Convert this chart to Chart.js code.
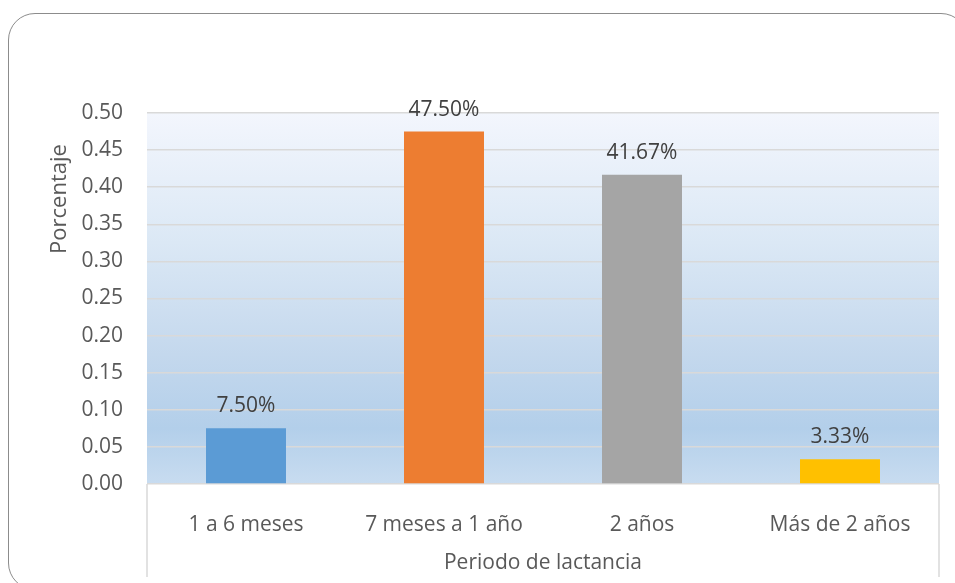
<!DOCTYPE html>
<html>
<head>
<meta charset="utf-8">
<script src="https://cdn.jsdelivr.net/npm/chart.js@4.4.0/dist/chart.umd.min.js"></script>
<style>
  html, body { margin: 0; padding: 0; background: #ffffff; }
  #wrap { position: relative; width: 955px; height: 583px; overflow: hidden; }
  #frame { position: absolute; left: 8px; top: 13px; width: 960px; height: 577px;
           border: 1px solid #8c8c8c; border-radius: 27px; box-sizing: border-box; pointer-events: none; }
  canvas { position: absolute; left: 0; top: 0; }
</style>
</head>
<body>
<div id="wrap">
  <div id="frame"></div>
  <canvas id="c" width="955" height="583"></canvas>
</div>
<script>
const categories = ['1 a 6 meses', '7 meses a 1 año', '2 años', 'Más de 2 años'];
const values = [0.075, 0.475, 0.4167, 0.0333];
const barColors = ['#5b9bd5', '#ed7d31', '#a5a5a5', '#ffc000'];
const yTitle = 'Porcentaje';
const xTitle = 'Periodo de lactancia';

const FONT = "'Open Sans', 'Noto Sans', sans-serif";

const bgPlugin = {
  id: 'plotBg',
  beforeDraw(chart) {
    const {ctx, chartArea: a} = chart;
    const g = ctx.createLinearGradient(0, a.top, 0, a.bottom);
    g.addColorStop(0, '#f3f6fd');
    g.addColorStop(0.35, '#dbe8f5');
    g.addColorStop(0.65, '#c4d8ed');
    g.addColorStop(0.85, '#b3cfea');
    g.addColorStop(1, '#c8dcf0');
    ctx.save();
    ctx.fillStyle = g;
    ctx.fillRect(a.left, a.top, a.right - a.left, a.bottom - a.top);
    ctx.restore();
  }
};

const decoPlugin = {
  id: 'deco',
  afterDraw(chart) {
    const {ctx, chartArea: a} = chart;
    ctx.save();
    ctx.strokeStyle = '#d9d9d9';
    ctx.lineWidth = 1.5;
    ctx.beginPath();
    ctx.moveTo(a.left, a.bottom);
    ctx.lineTo(a.left, chart.height - 6);
    ctx.moveTo(a.right, a.bottom);
    ctx.lineTo(a.right, chart.height - 6);
    ctx.stroke();
    ctx.fillStyle = '#595959';
    ctx.font = '22px ' + FONT;
    ctx.textAlign = 'center';
    ctx.textBaseline = 'middle';
    ctx.translate(60, a.top + 86);
    ctx.rotate(-Math.PI / 2);
    ctx.fillText(yTitle, 0, 0);
    ctx.restore();
  },
  afterDatasetsDraw(chart) {
    const {ctx} = chart;
    const meta = chart.getDatasetMeta(0);
    ctx.save();
    ctx.fillStyle = '#404040';
    ctx.font = '21px ' + FONT;
    ctx.textAlign = 'center';
    ctx.textBaseline = 'alphabetic';
    meta.data.forEach((bar, i) => {
      ctx.fillText((values[i] * 100).toFixed(2) + '%', bar.x, bar.y - 16);
    });
    ctx.restore();
  }
};

new Chart(document.getElementById('c'), {
  type: 'bar',
  data: {
    labels: categories,
    datasets: [{
      data: values,
      backgroundColor: barColors,
      borderWidth: 0,
      categoryPercentage: 0.8,
      barPercentage: 0.505
    }]
  },
  options: {
    responsive: false,
    animation: false,
    devicePixelRatio: 1,
    layout: { padding: { top: 113, right: 16, left: 0, bottom: 0 } },
    plugins: { legend: { display: false }, tooltip: { enabled: false } },
    scales: {
      x: {
        afterFit(scale) { scale.height = 99; },
        grid: { display: false },
        border: { display: false },
        ticks: { color: '#595959', font: { family: FONT, size: 21 }, padding: 20, maxRotation: 0 },
        title: { display: true, text: xTitle, color: '#595959', font: { family: FONT, size: 21 },
                 padding: { top: 7, bottom: 7 } }
      },
      y: {
        min: 0, max: 0.5,
        afterFit(scale) { scale.width = 147; },
        grid: { color: '#d9d9d9', lineWidth: 1.5, drawTicks: false },
        border: { display: false },
        ticks: { stepSize: 0.05, color: '#595959', font: { family: FONT, size: 21 }, padding: 24,
                 callback: v => Number(v).toFixed(2) }
      }
    }
  },
  plugins: [bgPlugin, decoPlugin]
});
</script>
</body>
</html>
